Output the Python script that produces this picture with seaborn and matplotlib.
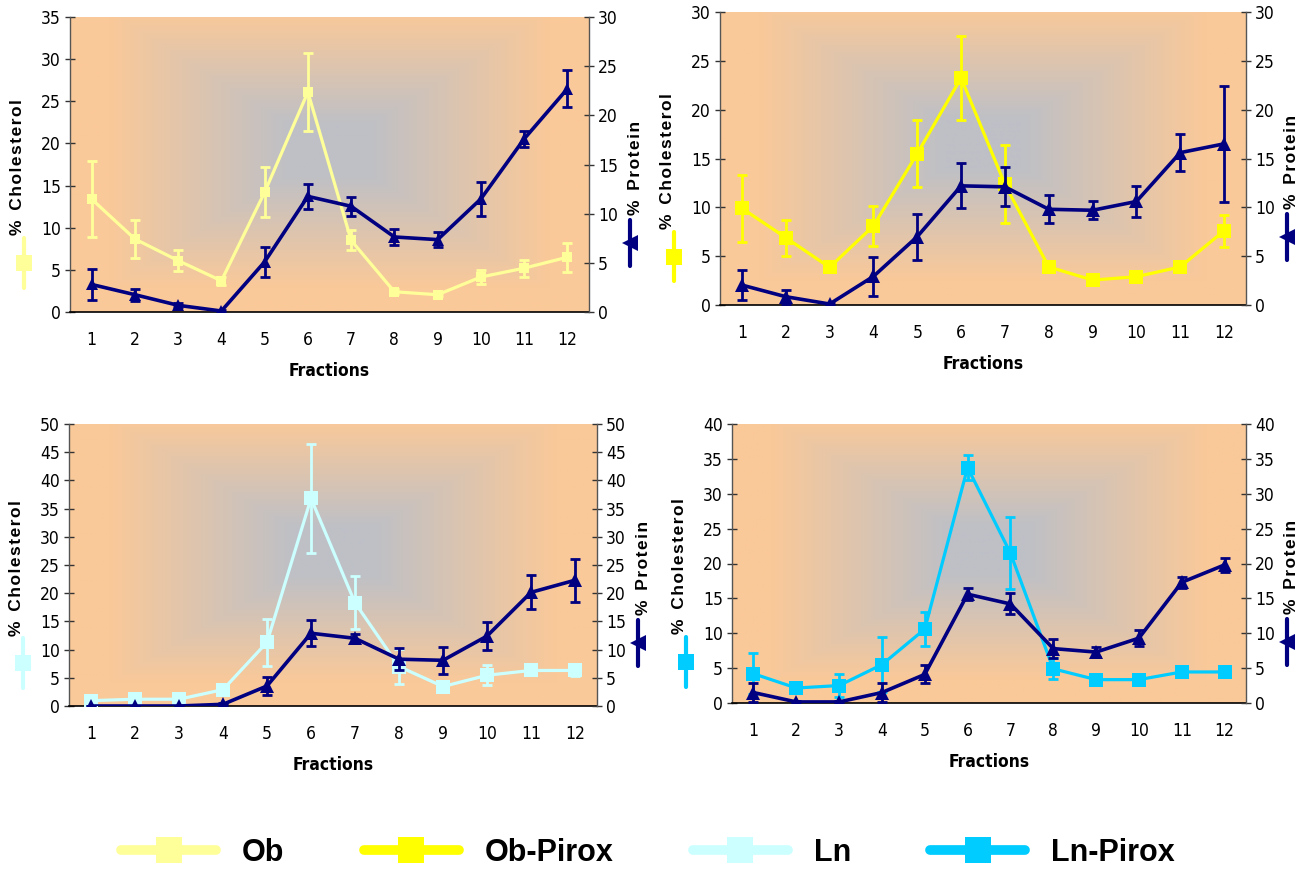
import numpy as np
import pandas as pd
import matplotlib
matplotlib.use("Agg")
import matplotlib.pyplot as plt
from matplotlib.lines import Line2D
import seaborn as sns

# ---------------- data ----------------
fractions = list(range(1, 13))
fraction_labels = [str(f) for f in fractions]

ob_chol = [13.4, 8.66, 6.1, 3.7, 14.2, 26.1, 8.5, 2.4, 2.05, 4.15, 5.2, 6.5]
ob_chol_err = [4.5, 2.3, 1.2, 0.5, 2.95, 4.6, 1.2, 0.3, 0.2, 0.85, 1.0, 1.7]
ob_prot = [2.8, 1.76, 0.68, 0.1, 5.1, 11.76, 10.75, 7.63, 7.36, 11.5, 17.6, 22.7]
ob_prot_err = [1.6, 0.6, 0.2, 0.1, 1.5, 1.25, 0.95, 0.8, 0.75, 1.75, 0.8, 1.9]

obp_chol = [9.9, 6.9, 3.85, 8.1, 15.5, 23.25, 12.35, 3.9, 2.55, 2.9, 3.9, 7.6]
obp_chol_err = [3.4, 1.85, 0.3, 2.05, 3.4, 4.3, 4.0, 0.3, 0.2, 0.2, 0.2, 1.65]
obp_prot = [2.04, 0.85, 0.1, 2.93, 7.0, 12.2, 12.1, 9.8, 9.7, 10.6, 15.6, 16.5]
obp_prot_err = [1.55, 0.7, 0.1, 2.0, 2.35, 2.3, 2.0, 1.45, 0.9, 1.6, 1.9, 5.95]

ln_chol = [0.95, 1.2, 1.2, 2.9, 11.3, 36.8, 18.3, 7.0, 3.45, 5.45, 6.3, 6.3]
ln_chol_err = [0.3, 0.3, 0.3, 0.6, 4.2, 9.7, 4.7, 3.1, 0.5, 1.8, 0.7, 0.9]
ln_prot = [0.0, 0.0, 0.0, 0.3, 3.55, 12.9, 12.0, 8.3, 8.1, 12.4, 20.15, 22.3]
ln_prot_err = [0.0, 0.0, 0.0, 0.2, 1.6, 2.3, 0.8, 1.9, 2.35, 2.5, 3.0, 3.8]

lnp_chol = [4.2, 2.15, 2.5, 5.5, 10.6, 33.75, 21.5, 4.9, 3.35, 3.35, 4.45, 4.45]
lnp_chol_err = [2.9, 0.7, 1.65, 3.9, 2.4, 1.85, 5.15, 1.5, 0.4, 0.6, 0.5, 0.5]
lnp_prot = [1.5, 0.15, 0.15, 1.5, 4.1, 15.6, 14.2, 7.8, 7.3, 9.3, 17.3, 19.8]
lnp_prot_err = [1.4, 0.15, 0.15, 1.4, 1.3, 0.9, 1.5, 1.4, 0.7, 1.15, 0.8, 1.05]

series_names = ["Ob", "Ob-Pirox", "Ln", "Ln-Pirox"]
series_colors = ["#FFFF99", "#FFFF00", "#CCFFFF", "#00CCFF"]
protein_color = "#000080"
chol_limits = [35, 30, 50, 40]
prot_limits = [30, 30, 50, 40]

chol_values = [ob_chol, obp_chol, ln_chol, lnp_chol]
chol_errors = [ob_chol_err, obp_chol_err, ln_chol_err, lnp_chol_err]
prot_values = [ob_prot, obp_prot, ln_prot, lnp_prot]
prot_errors = [ob_prot_err, obp_prot_err, ln_prot_err, lnp_prot_err]

# ---------------- style ----------------
W, H = 1310, 874
sns.set_theme(style="white")
NARROW = ["Liberation Sans Narrow", "DejaVu Sans"]
plt.rcParams["font.family"] = NARROW
plt.rcParams["font.stretch"] = "condensed"
plt.rcParams["text.color"] = "black"
plt.rcParams["axes.labelcolor"] = "black"
BOLD_FAM = ["Liberation Sans", "DejaVu Sans"]

fig = plt.figure(figsize=(W / 100, H / 100), dpi=100)
fig.patch.set_facecolor("white")

boxes = [(70, 589, 17, 312), (720, 1246, 12, 305), (69, 597, 424, 706), (732, 1246, 424, 703)]
sq_sizes = [7, 10, 9.5, 10]
tri_sizes = [8, 9.5, 9.5, 9.5]

gray = np.array([190, 192, 198]) / 255.0
orange = np.array([250, 201, 153]) / 255.0
u = np.linspace(0, 1, 300)
v = np.linspace(0, 1, 300)
U, V = np.meshgrid(u, v)
D = np.maximum(np.abs(U - 0.5) / 0.5, np.abs(V - 0.55) / 0.55)
T = np.clip((D - 0.15) / 0.7, 0, 1)[..., None]
grad = gray * (1 - T) + orange * T


def fx(x):
    return x / W


def fy(y):
    return 1 - y / H


def spaced(s):
    return "\u200a".join(list(s))


for i in range(4):
    l, r, t, b = boxes[i]
    ax = fig.add_axes([fx(l), fy(b), fx(r) - fx(l), fy(t) - fy(b)])
    ax2 = ax.twinx()
    ax.imshow(grad, extent=[0, 1, 0, 1], transform=ax.transAxes, origin="lower",
              aspect="auto", zorder=0, interpolation="bilinear")

    df = pd.DataFrame({"fraction": fractions, "chol": chol_values[i], "prot": prot_values[i]})
    col = series_colors[i]

    ax.errorbar(fractions, chol_values[i], yerr=chol_errors[i], fmt="none", ecolor=col,
                elinewidth=2, capsize=3.5, capthick=2, zorder=2)
    sns.lineplot(data=df, x="fraction", y="chol", ax=ax, color=col, lw=2.3, marker="s",
                 markersize=sq_sizes[i], markeredgewidth=0, zorder=3, errorbar=None)

    ax2.errorbar(fractions, prot_values[i], yerr=prot_errors[i], fmt="none",
                 ecolor=protein_color, elinewidth=2, capsize=3.5, capthick=2, zorder=2)
    sns.lineplot(data=df, x="fraction", y="prot", ax=ax2, color=protein_color, lw=2.6,
                 marker="^", markersize=tri_sizes[i], markeredgewidth=0, zorder=3, errorbar=None)

    for a, lim in ((ax, chol_limits[i]), (ax2, prot_limits[i])):
        a.set_xlim(0.5, 12.5)
        a.set_ylim(0, lim)
        a.set_yticks(np.arange(0, lim + 1, 5))
        a.set_ylabel("")
        a.grid(False)
        for sp in a.spines.values():
            sp.set_visible(False)

    ax.spines["left"].set_visible(True)
    ax.spines["left"].set_color("#555555")
    ax.spines["left"].set_linewidth(1)
    ax.spines["bottom"].set_visible(True)
    ax.spines["bottom"].set_color("black")
    ax.spines["bottom"].set_linewidth(1.2)
    ax2.spines["right"].set_visible(True)
    ax2.spines["right"].set_color("#555555")
    ax2.spines["right"].set_linewidth(1)

    ax.set_xticks(np.arange(0.5, 13, 1))
    ax.set_xticklabels([])
    ax.set_xticks(fractions, minor=True)
    ax.set_xticklabels(fraction_labels, minor=True)
    ax.tick_params(axis="x", which="major", direction="out", length=6, width=1, color="black",
                   bottom=True)
    ax.tick_params(axis="x", which="minor", length=0, pad=14, labelsize=12.5, labelcolor="black",
                   bottom=True)
    ax.tick_params(axis="y", direction="inout", length=7, width=1, color="#333333",
                   labelsize=12.5, labelcolor="black", pad=3, left=True)
    ax2.tick_params(axis="y", direction="inout", length=7, width=1, color="#333333",
                    labelsize=12.5, labelcolor="black", pad=3, right=True)
    ax2.set_xticks([])
    ax.set_xlabel("Fractions", fontsize=12.5, fontweight="bold", labelpad=9)

    cy = (t + b) / 2 + 3
    fig.text(fx(l - 52), fy(cy), "%  " + spaced("Cholesterol"), rotation=90, ha="center",
             va="center", fontsize=12.5, fontweight="bold", family=BOLD_FAM, stretch="normal")
    kx = l - 46
    fig.add_artist(Line2D([fx(kx), fx(kx)], [fy(cy + 70), fy(cy + 120)], color=col, lw=3,
                          transform=fig.transFigure))
    fig.add_artist(Line2D([fx(kx)], [fy(cy + 95)], color=col, marker="s", markersize=11,
                          markeredgewidth=0, transform=fig.transFigure))

    fig.text(fx(r + 46), fy(cy), "%  " + spaced("Protein"), rotation=90, ha="center",
             va="center", fontsize=12.5, fontweight="bold", family=BOLD_FAM, stretch="normal")
    kx2 = r + 41
    fig.add_artist(Line2D([fx(kx2), fx(kx2)], [fy(cy + 52), fy(cy + 98)], color=protein_color,
                          lw=3, transform=fig.transFigure))
    fig.add_artist(Line2D([fx(kx2)], [fy(cy + 75)], color=protein_color, marker="<",
                          markersize=11, markeredgewidth=0, transform=fig.transFigure))

handles = [Line2D([], [], color=c, lw=7, marker="s", markersize=19, markeredgewidth=0)
           for c in series_colors]
leg = fig.legend(handles, series_names, loc="center", bbox_to_anchor=(fx(648), fy(853)),
                 ncol=4, frameon=False, handlelength=3.1, handletextpad=0.85,
                 columnspacing=2.6,
                 prop={"family": BOLD_FAM, "weight": "bold", "size": 22, "stretch": "normal"})
for txt in leg.get_texts():
    txt.set_color("black")

fig.savefig("out.png", dpi=100, facecolor="white")
